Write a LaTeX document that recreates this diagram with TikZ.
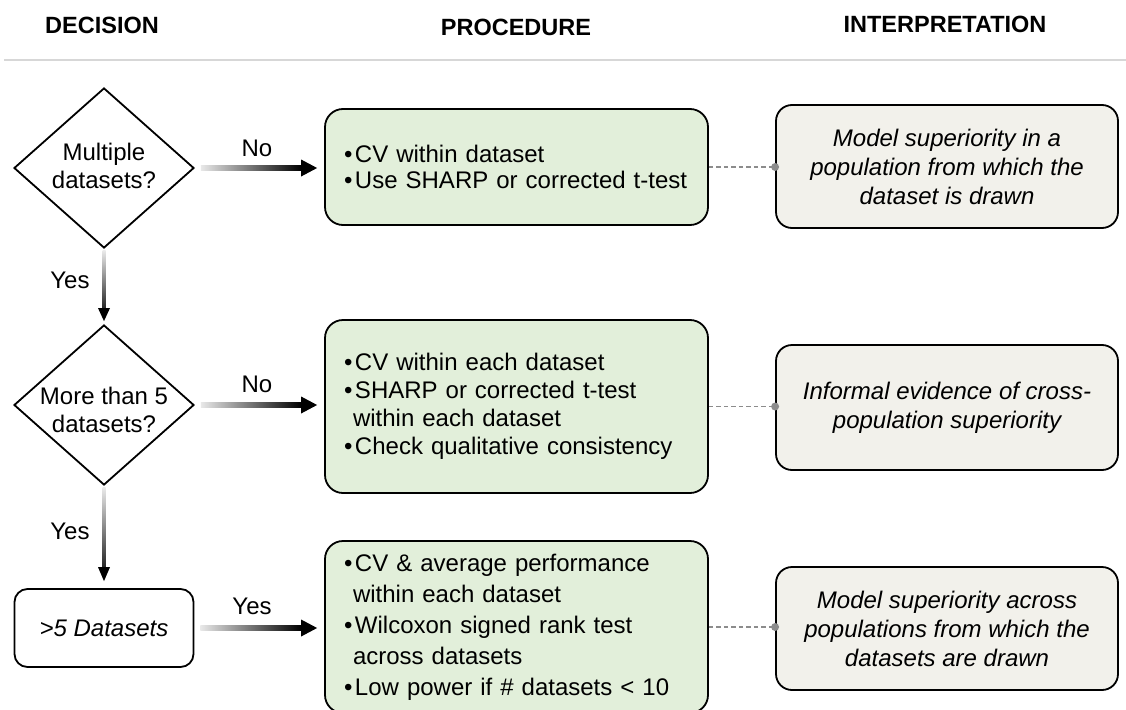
\documentclass[tikz,border=0pt]{standalone}
\usepackage{fontspec}
\setmainfont{Liberation Sans}
\usetikzlibrary{shapes.geometric,calc,arrows.meta}

\definecolor{procfill}{RGB}{226,239,218}
\definecolor{interpfill}{RGB}{242,241,235}
\definecolor{hdrline}{RGB}{215,215,215}
\definecolor{conngray}{RGB}{140,140,140}
\definecolor{shaftlight}{RGB}{232,232,232}

\newcommand\bitem{\makebox[11pt][l]{\textbullet}}
\newcommand\bcont{\hspace*{9pt}}

\tikzset{
  hdr/.style={font=\fontsize{23.5}{28}\selectfont\bfseries, inner sep=0pt},
  lbl/.style={font=\fontsize{24}{28}\selectfont, inner sep=0pt},
  dia/.style={diamond, draw, line width=1.8pt, minimum width=180pt, minimum height=160pt, inner sep=0pt},
  dtext/.style={font=\fontsize{24}{28.5}\selectfont, align=center, inner sep=0pt},
  dbox/.style={rectangle, draw, line width=1.8pt, rounded corners=13pt, minimum width=179pt, minimum height=78pt, font=\fontsize{24}{28}\selectfont\itshape, inner sep=0pt},
  proc/.style={rectangle, draw, line width=1.8pt, rounded corners=18pt, fill=procfill, minimum width=383pt, text width=345pt, inner xsep=19pt, inner ysep=0pt, align=left},
  interp/.style={rectangle, draw, line width=1.8pt, rounded corners=16pt, fill=interpfill, minimum width=342pt, align=center, inner sep=0pt, font=\fontsize{24}{29}\selectfont\itshape},
  conn/.style={draw=conngray, line width=1.4pt, dash pattern=on 4.5pt off 3pt},
  condot/.style={fill=conngray},
}

\begin{document}
\begin{tikzpicture}[x=1pt, y=-1pt]
\fill[white] (0,0) rectangle (1126,709);
\useasboundingbox (0,0) rectangle (1126,709);

% headers
\node[hdr] (hdec) at (102,25) {DECISION};
\node[hdr] (hproc) at (516,27.5) {PROCEDURE};
\node[hdr] (hint) at (945,24) {INTERPRETATION};
\coordinate (hl1) at (4,60);
\coordinate (hl2) at (1126,60);
\draw[hdrline, line width=1.5pt] (hl1) -- (hl2);

% decision column
\node[dia] (d1) at (104,168) {};
\node[dtext] (d1t) at (104,166) {Multiple\\datasets?};
\node[dia] (d2) at (104,405) {};
\node[dtext] (d2t) at (104,410) {More than 5\\datasets?};
\node[dbox] (b5) at (104,628) {>5 Datasets};

% procedure column
\node[proc, minimum height=116pt, font=\fontsize{24}{26}\selectfont] (p1) at (516.5,167) {%
\bitem CV within dataset\\
\bitem Use SHARP or corrected t-test};
\node[proc, minimum height=173pt, font=\fontsize{24}{28}\selectfont] (p2) at (516.5,406.5) {%
\bitem CV within each dataset\\
\bitem SHARP or corrected t-test\\
\bcont within each dataset\\
\bitem Check qualitative consistency};
\node[proc, minimum height=172pt, font=\fontsize{24}{31}\selectfont] (p3) at (516.5,627) {%
\bitem CV \& average performance\\
\bcont within each dataset\\
\bitem Wilcoxon signed rank test\\
\bcont across datasets\\
\bitem Low power if \# datasets < 10};

% interpretation column
\node[interp, minimum height=123pt] (i1) at (947,166.5) {Model superiority in a\\population from which the\\dataset is drawn};
\node[interp, minimum height=125pt] (i2) at (947,407.5) {Informal evidence of cross-\\population superiority};
\node[interp, minimum height=123pt] (i3) at (947,628.5) {Model superiority across\\populations from which the\\datasets are drawn};

% horizontal gradient arrows
\shade[left color=shaftlight, right color=black] ($(d1.east)+(6,-2.5)$) rectangle ($(d1.east -| p1.west)+(-23,2.5)$);
\fill ($(d1.east -| p1.west)+(-7,0)$) -- ++(-16,-8.5) -- ++(0,17) -- cycle;
\node[lbl] (no1) at (257,148) {No};

\shade[left color=shaftlight, right color=black] ($(d2.east)+(6,-2.5)$) rectangle ($(d2.east -| p2.west)+(-23,2.5)$);
\fill ($(d2.east -| p2.west)+(-7,0)$) -- ++(-16,-8.5) -- ++(0,17) -- cycle;
\node[lbl] (no2) at (257,384) {No};

\shade[left color=shaftlight, right color=black] ($(b5.east)+(6,-2.5)$) rectangle ($(b5.east -| p3.west)+(-23,2.5)$);
\fill ($(b5.east -| p3.west)+(-7,0)$) -- ++(-16,-8.5) -- ++(0,17) -- cycle;
\node[lbl] (yes3) at (252,606) {Yes};

% vertical gradient arrows
\shade[top color=shaftlight, bottom color=black!85] ($(d1.south)+(-1.5,2)$) rectangle ($(d2.north)+(1.5,-16)$);
\fill ($(d2.north)+(0,-3)$) -- ++(-6,-13) -- ++(12,0) -- cycle;
\node[lbl] (yes1) at (70,280) {Yes};

\shade[top color=shaftlight, bottom color=black!85] ($(d2.south)+(-1.5,2)$) rectangle ($(b5.north)+(1.5,-21)$);
\fill ($(b5.north)+(0,-7)$) -- ++(-6,-14) -- ++(12,0) -- cycle;
\node[lbl] (yes2) at (70,531) {Yes};

% dashed connectors
\draw[conn] (p1.east) -- (p1.east -| i1.west);
\fill[condot] (p1.east -| i1.west) circle (4pt);
\draw[conn] (p2.east) -- (p2.east -| i2.west);
\fill[condot] (p2.east -| i2.west) circle (4pt);
\draw[conn] (p3.east) -- (p3.east -| i3.west);
\fill[condot] (p3.east -| i3.west) circle (4pt);
\end{tikzpicture}
\end{document}
